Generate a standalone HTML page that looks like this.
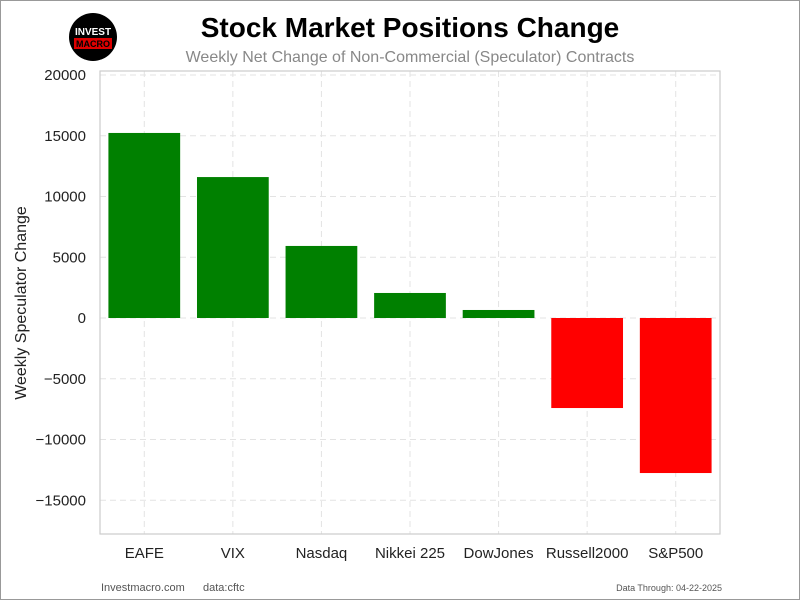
<!DOCTYPE html>
<html><head><meta charset="utf-8"><style>
body{margin:0;background:#fff;font-family:"Liberation Sans",sans-serif}
#wrap{position:relative;width:798px;height:598px;border:1px solid #999;overflow:hidden}
</style></head><body>
<div id="wrap">
<svg id="svg" width="798" height="598" xmlns="http://www.w3.org/2000/svg" font-family="Liberation Sans, sans-serif">
<g transform="translate(-1,-1)">
<g>
<circle cx="93" cy="37" r="24" fill="#000"/>
<text x="93" y="35" font-size="10" font-weight="bold" fill="#fff" text-anchor="middle">INVEST</text>
<rect x="74" y="38" width="38" height="11" fill="#d00"/>
<text x="93" y="47" font-size="9" font-weight="bold" fill="#000" text-anchor="middle">MACRO</text>
</g>
<text x="410" y="37" font-size="28" font-weight="bold" text-anchor="middle" fill="#000">Stock Market Positions Change</text>
<text x="410" y="62" font-size="16" text-anchor="middle" fill="#888">Weekly Net Change of Non-Commercial (Speculator) Contracts</text>
<text transform="translate(26,303) rotate(-90)" font-size="16" text-anchor="middle" fill="#222">Weekly Speculator Change</text>
<g id="grid"></g><g id="bars"></g><g id="axes"></g>
<rect x="100" y="71" width="620" height="463" fill="none" stroke="#ccc" stroke-width="1.2"/>
<text x="101" y="591" font-size="11" fill="#555">Investmacro.com</text>
<text x="203" y="591" font-size="11" fill="#555">data:cftc</text>
<text x="722" y="591" font-size="9" fill="#555" text-anchor="end">Data Through: 04-22-2025</text>
</g>
</svg></div>
<script>
const categories=["EAFE","VIX","Nasdaq","Nikkei 225","DowJones","Russell2000","S&P500"];
const values=[15230,11600,5930,2060,660,-7410,-12760];
const yTicks=[20000,15000,10000,5000,0,-5000,-10000,-15000];
const NS="http://www.w3.org/2000/svg";
const y=v=>318-v*0.01215;
const x=i=>100+(i+0.5)*620/7;
const bw=0.81*620/7;
function mk(t,a,p){const e=document.createElementNS(NS,t);for(const k in a)e.setAttribute(k,a[k]);p.appendChild(e);return e;}
const grid=document.getElementById('grid'),bars=document.getElementById('bars'),axes=document.getElementById('axes');
yTicks.forEach(v=>{
const l=mk('line',{x1:100,x2:720,y1:y(v),y2:y(v),stroke:'#e3e3e3','stroke-dasharray':'6,4'},grid);


const t=mk('text',{x:86,y:y(v)+5,'font-size':15,'text-anchor':'end',fill:'#222'},axes);
t.textContent=v<0?'\u2212'+Math.abs(v):v;


});
categories.forEach((c,i)=>{
const l=mk('line',{x1:x(i),x2:x(i),y1:71,y2:534,stroke:'#e3e3e3','stroke-dasharray':'6,4'},grid);


const v=values[i];
const r=mk('rect',{x:x(i)-bw/2,y:Math.min(y(v),y(0)),width:bw,height:Math.abs(y(v)-y(0)),fill:v>=0?'#008000':'#ff0000'},bars);


const t=mk('text',{x:x(i),y:558,'font-size':15,'text-anchor':'middle',fill:'#222'},axes);
t.textContent=c;


});
</script>
</body></html>
